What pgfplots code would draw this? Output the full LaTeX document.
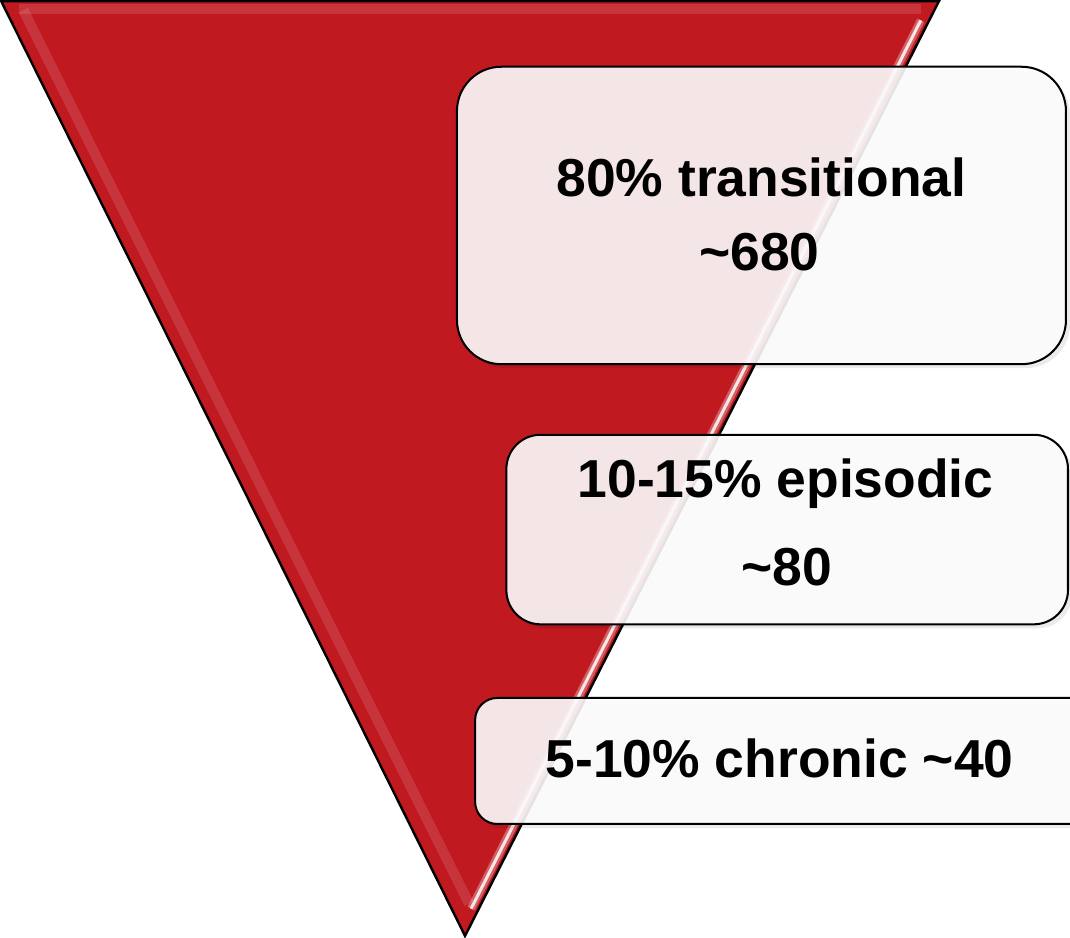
\documentclass[border=0pt]{standalone}
\usepackage{fontspec}
\setmainfont{Liberation Sans}
\usepackage{pgfplots}
\pgfplotsset{compat=1.18}
\definecolor{funnelred}{HTML}{C01920}
\definecolor{boxfill}{HTML}{FCFCFC}
\begin{document}
\begin{tikzpicture}
\begin{axis}[
  width=535pt, height=467pt, scale only axis,
  xmin=0, xmax=1070, ymin=0, ymax=934, y dir=reverse,
  axis lines=none, clip=true]
% triangle
\addplot[fill=funnelred, draw=black, line width=1.2pt, line join=miter] coordinates {(10,5) (940,5) (470,932)} -- cycle;
% bevel inner light band along left and top edges
\addplot[draw=white, opacity=0.12, line width=5pt] coordinates {(32,14) (474,900)};
\addplot[draw=white, opacity=0.12, line width=5pt] coordinates {(28,13) (922,13)};
% highlight along right edge
\addplot[draw=white, opacity=0.85, line width=1.5pt] coordinates {(922,24) (476,905)};
\addplot[draw=white, opacity=0.3, line width=4pt] coordinates {(922,24) (476,905)};
% shadows
\addplot[fill=black, draw=none, opacity=0.08, rounded corners=22pt] coordinates {(764,74) (1070,74) (1070,369) (466,369) (466,74)} -- cycle;
\addplot[fill=black, draw=none, opacity=0.08, rounded corners=17pt] coordinates {(790,439) (1072,439) (1072,627) (515,627) (515,439)} -- cycle;
\addplot[fill=black, draw=none, opacity=0.08, rounded corners=11pt] coordinates {(790,700) (1100,700) (1100,825) (484,825) (484,700)} -- cycle;
% boxes
\addplot[fill=boxfill, fill opacity=0.9, draw=black, line width=1pt, rounded corners=22pt] coordinates {(764,70) (1066,70) (1066,365) (462,365) (462,70)} -- cycle;
\addplot[fill=boxfill, fill opacity=0.9, draw=black, line width=1pt, rounded corners=17pt] coordinates {(790,435) (1068,435) (1068,623) (511,623) (511,435)} -- cycle;
\addplot[fill=boxfill, fill opacity=0.9, draw=black, line width=1pt, rounded corners=11pt] coordinates {(790,696) (1100,696) (1100,821) (480,821) (480,696)} -- cycle;
% labels
\node[anchor=base, font=\fontsize{26.5}{30}\selectfont\bfseries] at (axis cs:764,199) {80\% transitional};
\node[anchor=base, font=\fontsize{26.5}{30}\selectfont\bfseries] at (axis cs:762,272) {\char`\~680};
\node[anchor=base, font=\fontsize{26.5}{30}\selectfont\bfseries] at (axis cs:788,497) {10-15\% episodic};
\node[anchor=base, font=\fontsize{26.5}{30}\selectfont\bfseries] at (axis cs:789,584) {\char`\~80};
\node[anchor=base, font=\fontsize{26.5}{30}\selectfont\bfseries] at (axis cs:782,775) {5-10\% chronic \char`\~40};
\end{axis}
\end{tikzpicture}
\end{document}
